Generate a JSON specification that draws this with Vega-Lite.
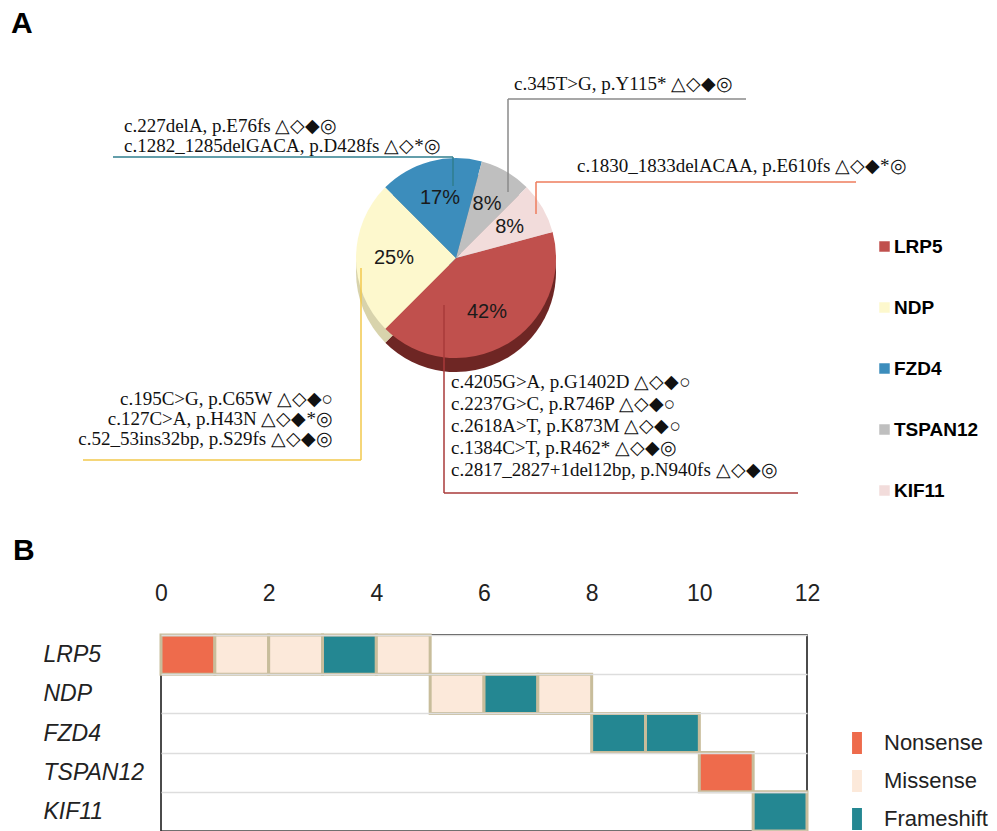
{
  "$schema": "https://vega.github.io/schema/vega-lite/v6.json",
  "padding": 0,
  "background": "white",
  "spacing": 6,
  "config": {"view": {"stroke": null}, "font": "Liberation Sans"},
  "datasets": {
    "pie": [
      {"gene": "LRP5", "count": 5, "rank": 1, "pct": "42%"},
      {"gene": "NDP", "count": 3, "rank": 2, "pct": "25%"},
      {"gene": "FZD4", "count": 2, "rank": 3, "pct": "17%"},
      {"gene": "TSPAN12", "count": 1, "rank": 4, "pct": "8%"},
      {"gene": "KIF11", "count": 1, "rank": 5, "pct": "8%"}
    ],
    "notes": [
      {"gene": "FZD4", "lines": "c.227delA, p.E76fs △◇◆◎\nc.1282_1285delGACA, p.D428fs △◇*◎"},
      {"gene": "TSPAN12", "lines": "c.345T>G, p.Y115* △◇◆◎"},
      {"gene": "KIF11", "lines": "c.1830_1833delACAA, p.E610fs △◇◆*◎"},
      {"gene": "NDP", "lines": "c.195C>G, p.C65W △◇◆○\nc.127C>A, p.H43N △◇◆*◎\nc.52_53ins32bp, p.S29fs △◇◆◎"},
      {"gene": "LRP5", "lines": "c.4205G>A, p.G1402D △◇◆○\nc.2237G>C, p.R746P △◇◆○\nc.2618A>T, p.K873M △◇◆○\nc.1384C>T, p.R462* △◇◆◎\nc.2817_2827+1del12bp, p.N940fs △◇◆◎"}
    ],
    "cells": [
      {"gene": "LRP5", "start": 0, "end": 1, "type": "Nonsense"},
      {"gene": "LRP5", "start": 1, "end": 2, "type": "Missense"},
      {"gene": "LRP5", "start": 2, "end": 3, "type": "Missense"},
      {"gene": "LRP5", "start": 3, "end": 4, "type": "Frameshift"},
      {"gene": "LRP5", "start": 4, "end": 5, "type": "Missense"},
      {"gene": "NDP", "start": 5, "end": 6, "type": "Missense"},
      {"gene": "NDP", "start": 6, "end": 7, "type": "Frameshift"},
      {"gene": "NDP", "start": 7, "end": 8, "type": "Missense"},
      {"gene": "FZD4", "start": 8, "end": 9, "type": "Frameshift"},
      {"gene": "FZD4", "start": 9, "end": 10, "type": "Frameshift"},
      {"gene": "TSPAN12", "start": 10, "end": 11, "type": "Nonsense"},
      {"gene": "KIF11", "start": 11, "end": 12, "type": "Frameshift"}
    ]
  },
  "vconcat": [
    {
      "width": 837,
      "height": 575,
      "resolve": {"scale": {"color": "independent"}},
      "layer": [
        {
          "data": {"name": "pie"},
          "mark": {"type": "arc", "outerRadius": 100},
          "encoding": {
            "x": {"datum": 45.5, "type": "quantitative", "scale": {"domain": [16.0, 99.7], "nice": false, "zero": false}, "axis": null},
            "y": {"datum": 27.2, "type": "quantitative", "scale": {"domain": [0, 57.5], "nice": false, "zero": false, "reverse": true}, "axis": null},
            "theta": {"field": "count", "type": "quantitative", "stack": true, "scale": {"range": [1.309, 7.592]}},
            "order": {"field": "rank", "type": "quantitative"},
            "color": {"field": "gene", "type": "nominal", "scale": {"domain": ["LRP5", "NDP", "FZD4", "TSPAN12", "KIF11"], "range": ["#6E2624", "#D8D3AC", "#2C6A8E", "#979797", "#C9B5B4"]}, "legend": null}
          }
        },
        {
          "data": {"name": "pie"},
          "mark": {"type": "arc", "outerRadius": 100},
          "encoding": {
            "x": {"datum": 45.5, "type": "quantitative", "axis": null},
            "y": {"datum": 25.8, "type": "quantitative", "axis": null},
            "theta": {"field": "count", "type": "quantitative", "stack": true, "scale": {"range": [1.309, 7.592]}},
            "order": {"field": "rank", "type": "quantitative"},
            "color": {"field": "gene", "type": "nominal", "scale": {"domain": ["LRP5", "NDP", "FZD4", "TSPAN12", "KIF11"], "range": ["#C0504D", "#FDF8CD", "#3C8DBC", "#BFBFBF", "#F2DCDB"]},
              "legend": {"orient": "none", "legendX": 714, "legendY": 237, "title": null, "symbolType": "square", "symbolSize": 110, "symbolStrokeWidth": 0, "labelFont": "Liberation Sans", "labelFontSize": 19, "labelFontWeight": "bold", "labelColor": "#000", "labelOffset": 0, "rowPadding": 41}}
          }
        },
        {
          "data": {"name": "pie"},
          "mark": {"type": "text", "radius": 62, "font": "Liberation Sans", "fontSize": 20, "color": "#1a1a1a"},
          "encoding": {
            "x": {"datum": 45.5, "type": "quantitative", "axis": null},
            "y": {"datum": 25.8, "type": "quantitative", "axis": null},
            "theta": {"field": "count", "type": "quantitative", "stack": true, "scale": {"range": [1.309, 7.592]}},
            "order": {"field": "rank", "type": "quantitative"},
            "text": {"field": "pct", "type": "nominal"}
          }
        },
        {
          "data": {"name": "notes"},
          "transform": [{"filter": "datum.gene == 'FZD4'"}],
          "mark": {"type": "text", "align": "left", "baseline": "alphabetic", "font": "Liberation Serif", "fontSize": 19, "lineHeight": 20, "lineBreak": "\n", "color": "#111"},
          "encoding": {"x": {"datum": 12.3, "type": "quantitative", "axis": null}, "y": {"datum": 13.2, "type": "quantitative", "axis": null}, "text": {"field": "lines", "type": "nominal"}}
        },
        {
          "data": {"name": "notes"},
          "transform": [{"filter": "datum.gene == 'TSPAN12'"}],
          "mark": {"type": "text", "align": "left", "baseline": "alphabetic", "font": "Liberation Serif", "fontSize": 19, "lineHeight": 20, "lineBreak": "\n", "color": "#111"},
          "encoding": {"x": {"datum": 51.3, "type": "quantitative", "axis": null}, "y": {"datum": 9.0, "type": "quantitative", "axis": null}, "text": {"field": "lines", "type": "nominal"}}
        },
        {
          "data": {"name": "notes"},
          "transform": [{"filter": "datum.gene == 'KIF11'"}],
          "mark": {"type": "text", "align": "left", "baseline": "alphabetic", "font": "Liberation Serif", "fontSize": 19, "lineHeight": 20, "lineBreak": "\n", "color": "#111"},
          "encoding": {"x": {"datum": 57.6, "type": "quantitative", "axis": null}, "y": {"datum": 17.2, "type": "quantitative", "axis": null}, "text": {"field": "lines", "type": "nominal"}}
        },
        {
          "data": {"name": "notes"},
          "transform": [{"filter": "datum.gene == 'NDP'"}],
          "mark": {"type": "text", "align": "right", "baseline": "alphabetic", "font": "Liberation Serif", "fontSize": 19, "lineHeight": 20, "lineBreak": "\n", "color": "#111"},
          "encoding": {"x": {"datum": 33.2, "type": "quantitative", "axis": null}, "y": {"datum": 40.5, "type": "quantitative", "axis": null}, "text": {"field": "lines", "type": "nominal"}}
        },
        {
          "data": {"name": "notes"},
          "transform": [{"filter": "datum.gene == 'LRP5'"}],
          "mark": {"type": "text", "align": "left", "baseline": "alphabetic", "font": "Liberation Serif", "fontSize": 19, "lineHeight": 22, "lineBreak": "\n", "color": "#111"},
          "encoding": {"x": {"datum": 45.0, "type": "quantitative", "axis": null}, "y": {"datum": 38.8, "type": "quantitative", "axis": null}, "text": {"field": "lines", "type": "nominal"}}
        },
        {
          "data": {"values": [{}]},
          "mark": {"type": "rule", "color": "#2F7E8E", "strokeWidth": 1.5},
          "encoding": {"x": {"datum": 11.2, "type": "quantitative", "axis": null}, "x2": {"datum": 45.2}, "y": {"datum": 15.7, "type": "quantitative", "axis": null}, "y2": {"datum": 15.7}}
        },
        {
          "data": {"values": [{}]},
          "mark": {"type": "rule", "color": "#2F7E8E", "strokeWidth": 1.5},
          "encoding": {"x": {"datum": 45.2, "type": "quantitative", "axis": null}, "x2": {"datum": 45.2}, "y": {"datum": 15.7, "type": "quantitative", "axis": null}, "y2": {"datum": 18.6}}
        },
        {
          "data": {"values": [{}]},
          "mark": {"type": "rule", "color": "#8A8A8A", "strokeWidth": 1.5},
          "encoding": {"x": {"datum": 50.7, "type": "quantitative", "axis": null}, "x2": {"datum": 74.5}, "y": {"datum": 9.9, "type": "quantitative", "axis": null}, "y2": {"datum": 9.9}}
        },
        {
          "data": {"values": [{}]},
          "mark": {"type": "rule", "color": "#8A8A8A", "strokeWidth": 1.5},
          "encoding": {"x": {"datum": 50.7, "type": "quantitative", "axis": null}, "x2": {"datum": 50.7}, "y": {"datum": 9.9, "type": "quantitative", "axis": null}, "y2": {"datum": 19.2}}
        },
        {
          "data": {"values": [{}]},
          "mark": {"type": "rule", "color": "#EE7D5C", "strokeWidth": 1.5},
          "encoding": {"x": {"datum": 53.5, "type": "quantitative", "axis": null}, "x2": {"datum": 85.5}, "y": {"datum": 18.2, "type": "quantitative", "axis": null}, "y2": {"datum": 18.2}}
        },
        {
          "data": {"values": [{}]},
          "mark": {"type": "rule", "color": "#EE7D5C", "strokeWidth": 1.5},
          "encoding": {"x": {"datum": 53.5, "type": "quantitative", "axis": null}, "x2": {"datum": 53.5}, "y": {"datum": 18.2, "type": "quantitative", "axis": null}, "y2": {"datum": 21.4}}
        },
        {
          "data": {"values": [{}]},
          "mark": {"type": "rule", "color": "#F2C94C", "strokeWidth": 1.5},
          "encoding": {"x": {"datum": 8.2, "type": "quantitative", "axis": null}, "x2": {"datum": 36.0}, "y": {"datum": 46.0, "type": "quantitative", "axis": null}, "y2": {"datum": 46.0}}
        },
        {
          "data": {"values": [{}]},
          "mark": {"type": "rule", "color": "#F2C94C", "strokeWidth": 1.5},
          "encoding": {"x": {"datum": 36.0, "type": "quantitative", "axis": null}, "x2": {"datum": 36.0}, "y": {"datum": 26.8, "type": "quantitative", "axis": null}, "y2": {"datum": 46.0}}
        },
        {
          "data": {"values": [{}]},
          "mark": {"type": "rule", "color": "#A83A3A", "strokeWidth": 1.5},
          "encoding": {"x": {"datum": 44.3, "type": "quantitative", "axis": null}, "x2": {"datum": 79.7}, "y": {"datum": 49.3, "type": "quantitative", "axis": null}, "y2": {"datum": 49.3}}
        },
        {
          "data": {"values": [{}]},
          "mark": {"type": "rule", "color": "#A83A3A", "strokeWidth": 1.5},
          "encoding": {"x": {"datum": 44.3, "type": "quantitative", "axis": null}, "x2": {"datum": 44.3}, "y": {"datum": 30.5, "type": "quantitative", "axis": null}, "y2": {"datum": 49.3}}
        },
        {
          "data": {"values": [{"label": "A"}]},
          "mark": {"type": "text", "align": "left", "baseline": "alphabetic", "font": "Liberation Sans", "fontSize": 30, "fontWeight": "bold", "color": "#000"},
          "encoding": {"x": {"datum": 1.0, "type": "quantitative", "axis": null}, "y": {"datum": 3.3, "type": "quantitative", "axis": null}, "text": {"field": "label", "type": "nominal"}}
        },
        {
          "data": {"values": [{"label": "B"}]},
          "mark": {"type": "text", "align": "left", "baseline": "alphabetic", "font": "Liberation Sans", "fontSize": 30, "fontWeight": "bold", "color": "#000"},
          "encoding": {"x": {"datum": 1.2, "type": "quantitative", "axis": null}, "y": {"datum": 56.0, "type": "quantitative", "axis": null}, "text": {"field": "label", "type": "nominal"}}
        }
      ]
    },
    {
      "width": 646,
      "height": 196,
      "view": {"stroke": "#111", "strokeWidth": 1.5},
      "data": {"name": "cells"},
      "mark": {"type": "rect", "stroke": "#C8BD9B", "strokeWidth": 3},
      "encoding": {
        "x": {"field": "start", "type": "quantitative", "scale": {"domain": [0, 12], "nice": false, "zero": false},
          "axis": {"orient": "top", "values": [0, 2, 4, 6, 8, 10, 12], "title": null, "domain": false, "ticks": false, "tickSize": 0, "grid": false, "labelPadding": 30, "labelFont": "Liberation Sans", "labelFontSize": 23, "labelColor": "#222", "minExtent": 53, "labelFlush": false}},
        "x2": {"field": "end"},
        "y": {"field": "gene", "type": "nominal", "sort": ["LRP5", "NDP", "FZD4", "TSPAN12", "KIF11"], "scale": {"paddingInner": 0, "paddingOuter": 0},
          "axis": {"title": null, "domain": false, "ticks": false, "tickSize": 0, "grid": true, "tickBand": "extent", "gridColor": "#DDDDDD", "gridWidth": 1.5, "labelAlign": "left", "labelPadding": 118, "labelFont": "Liberation Sans", "labelFontSize": 23, "labelFontStyle": "italic", "labelColor": "#222", "minExtent": 160}},
        "color": {"field": "type", "type": "nominal", "scale": {"domain": ["Nonsense", "Missense", "Frameshift"], "range": ["#EE6B4C", "#FCE9DA", "#248792"]},
          "legend": {"orient": "none", "legendX": 685, "legendY": 732, "title": null, "symbolType": "M-0.45,-1H0.45V1H-0.45Z", "symbolSize": 484, "symbolStrokeWidth": 0, "labelFont": "Liberation Sans", "labelFontSize": 22, "labelColor": "#222", "labelOffset": 16, "rowPadding": 16}}
      }
    }
  ]
}
